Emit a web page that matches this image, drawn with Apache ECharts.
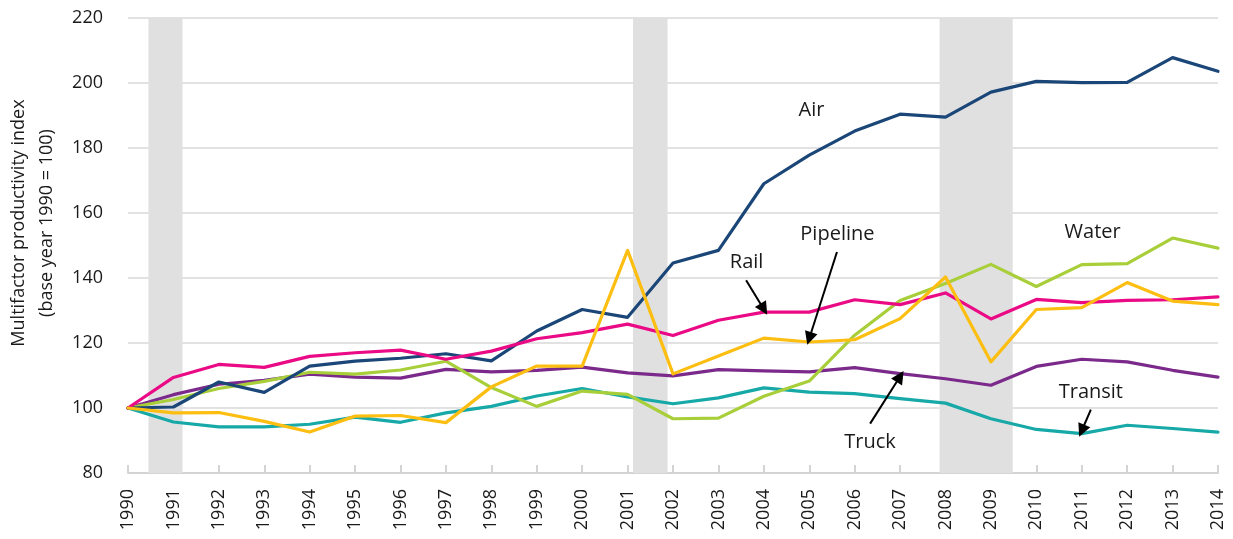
<!DOCTYPE html>
<html>
<head>
<meta charset="utf-8">
<script src="https://cdn.jsdelivr.net/npm/echarts@6/dist/echarts.min.js"></script>
<style>
  html, body { margin: 0; padding: 0; background: #ffffff; }
  #chart { width: 1233px; height: 539px; }
</style>
</head>
<body>
<div id="chart"></div>
<script>
// Years on the horizontal axis
const years = [1990, 1991, 1992, 1993, 1994, 1995, 1996, 1997, 1998, 1999, 2000, 2001,
               2002, 2003, 2004, 2005, 2006, 2007, 2008, 2009, 2010, 2011, 2012, 2013, 2014];

// Multifactor productivity index by mode (1990 = 100)
const air      = [100, 100.3, 108.0, 104.8, 112.9, 114.4, 115.3, 116.7, 114.5, 123.7, 130.3, 127.9,
                  144.6, 148.5, 169.0, 177.8, 185.2, 190.4, 189.5, 197.2, 200.5, 200.1, 200.2, 207.8, 203.6];
const rail     = [100, 109.4, 113.4, 112.5, 115.9, 117.0, 117.8, 115.0, 117.5, 121.3, 123.2, 125.8,
                  122.3, 127.0, 129.5, 129.5, 133.3, 131.8, 135.4, 127.4, 133.4, 132.4, 133.1, 133.3, 134.2];
const water    = [100, 102.6, 106.0, 108.2, 111.0, 110.4, 111.7, 114.4, 106.3, 100.5, 105.2, 104.2,
                  96.7, 96.9, 103.6, 108.3, 122.4, 133.1, 138.3, 144.2, 137.4, 144.1, 144.4, 152.3, 149.2];
const truck    = [100, 104.1, 107.3, 108.5, 110.4, 109.5, 109.2, 111.9, 111.1, 111.6, 112.6, 110.8,
                  109.9, 111.8, 111.4, 111.1, 112.4, 110.6, 109.0, 107.0, 112.8, 115.0, 114.2, 111.6, 109.5];
const transit  = [100, 95.7, 94.2, 94.2, 95.0, 97.2, 95.6, 98.5, 100.5, 103.7, 106.0, 103.4,
                  101.3, 103.1, 106.2, 104.9, 104.4, 102.9, 101.5, 96.7, 93.4, 92.1, 94.7, 93.7, 92.6];
const pipeline = [100, 98.5, 98.6, 95.9, 92.6, 97.5, 97.7, 95.5, 106.5, 112.9, 112.9, 148.5,
                  110.5, 116.0, 121.5, 120.3, 121.0, 127.5, 140.3, 114.2, 130.3, 130.9, 138.6, 132.9, 131.8];

// Recession periods (fractional years)
const recessions = [[1990.45, 1991.2], [2001.12, 2001.88], [2007.87, 2009.48]];

// Y-axis range
const yMin = 80, yMax = 220, yStep = 20;

// Series labels placed in data space: [text, year, value]
const seriesLabels = [
  ['Air', 2005.05, 191.6],
  ['Pipeline', 2005.62, 153.3],
  ['Rail', 2003.62, 144.8],
  ['Water', 2011.24, 154.0],
  ['Transit', 2011.2, 104.8],
  ['Truck', 2006.34, 89.4]
];

// Pointer arrows: [fromYear, fromValue, toYear, toValue]
const pointers = [
  [2003.61, 139.3, 2004.0, 130.4],
  [2005.61, 148.0, 2005.0, 121.4],
  [2006.34, 95.2, 2007.0, 109.7],
  [2011.2, 99.5, 2011.0, 93.0]
];

const FONT = '"Open Sans", "Noto Sans", sans-serif';
const TEXT = '#1a1a1a';

function pair(values) {
  return values.map((v, i) => [years[i], v]);
}

function lineSeries(name, values, color) {
  return {
    name: name,
    type: 'line',
    data: pair(values),
    symbol: 'none',
    z: 3,
    lineStyle: { color: color, width: 3.2, cap: 'round', join: 'round' },
    emphasis: { disabled: true }
  };
}

const chart = echarts.init(document.getElementById('chart'), null, { renderer: 'canvas' });

chart.setOption({
  animation: false,
  textStyle: { fontFamily: FONT },
  grid: { left: 128, right: 15, top: 18, bottom: 66, containLabel: false },
  xAxis: {
    type: 'value',
    min: years[0],
    max: years[years.length - 1],
    interval: 1,
    axisLine: { show: true, lineStyle: { color: '#d4d4d4', width: 2 } },
    axisTick: { show: true, inside: true, length: 8, lineStyle: { color: '#d4d4d4', width: 2 } },
    splitLine: { show: false },
    axisLabel: {
      rotate: 90,
      margin: 16,
      fontSize: 18,
      color: TEXT,
      fontFamily: FONT,
      formatter: v => String(v)
    }
  },
  yAxis: {
    type: 'value',
    min: yMin,
    max: yMax,
    interval: yStep,
    axisLine: { show: false },
    axisTick: { show: false },
    splitLine: { show: true, lineStyle: { color: '#d9d9d9', width: 1.6 } },
    axisLabel: { margin: 25, fontSize: 18, color: TEXT, fontFamily: FONT }
  },
  graphic: [{
    type: 'text',
    x: 33,
    y: 223,
    rotation: Math.PI / 2,
    style: {
      text: 'Multifactor productivity index\n(base year 1990 = 100)',
      align: 'center',
      verticalAlign: 'middle',
      font: '18px ' + FONT,
      lineHeight: 28,
      fill: TEXT
    }
  }],
  series: [
    {
      name: 'recessions',
      type: 'line',
      data: pair(air),
      symbol: 'none',
      silent: true,
      z: 1,
      lineStyle: { opacity: 0 },
      markArea: {
        silent: true,
        itemStyle: { color: '#e0e0e0' },
        data: recessions.map(r => [{ xAxis: r[0] }, { xAxis: r[1] }])
      }
    },
    lineSeries('Transit', transit, '#17a8a8'),
    lineSeries('Truck', truck, '#7b2a8b'),
    lineSeries('Water', water, '#a8cf3a'),
    lineSeries('Air', air, '#1b4678'),
    lineSeries('Rail', rail, '#ea0a85'),
    lineSeries('Pipeline', pipeline, '#fdbe12'),
    {
      name: 'annotations',
      type: 'line',
      data: [],
      symbol: 'none',
      z: 5,
      silent: true,
      markPoint: {
        silent: true,
        symbol: 'rect',
        symbolSize: 1,
        itemStyle: { color: 'rgba(0,0,0,0)' },
        label: {
          show: true,
          position: 'inside',
          fontSize: 20,
          color: TEXT,
          fontFamily: FONT,
          formatter: p => p.name
        },
        data: seriesLabels.map(l => ({ name: l[0], coord: [l[1], l[2]] }))
      },
      markLine: {
        silent: true,
        symbol: ['none', 'triangle'],
        symbolSize: 13,
        label: { show: false },
        lineStyle: { color: '#000000', width: 2, type: 'solid' },
        data: pointers.map(p => [{ coord: [p[0], p[1]] }, { coord: [p[2], p[3]] }])
      }
    }
  ]
});
</script>
</body>
</html>
